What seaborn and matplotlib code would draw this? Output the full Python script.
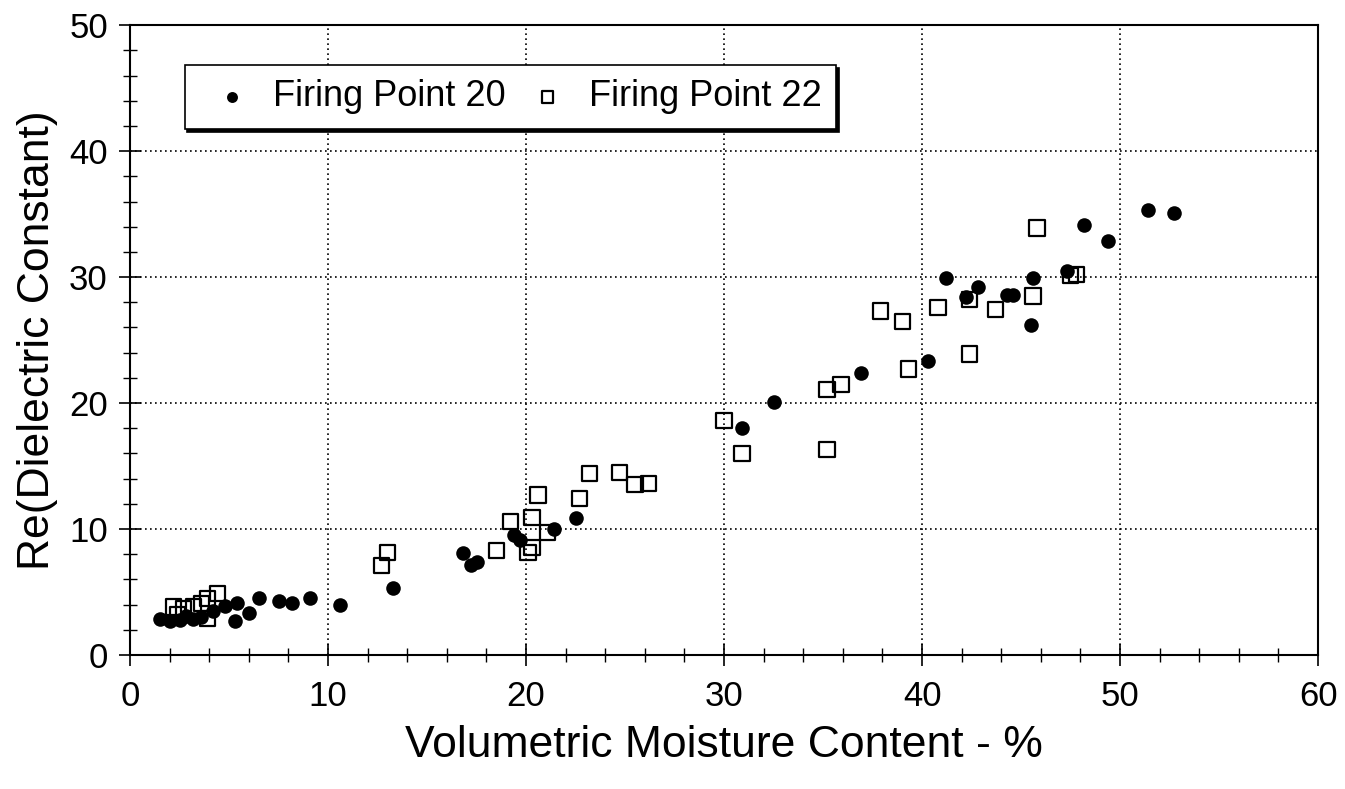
import numpy as np
import pandas as pd
import matplotlib
matplotlib.use('Agg')
import matplotlib.pyplot as plt
import seaborn as sns

# ── Data ───────────────────────────────────────
fp20_x = [1.5, 2.0, 2.5, 2.8, 3.2, 3.6, 4.2, 4.8, 5.4, 5.3, 6.0, 6.5, 7.5,
          8.2, 9.1, 10.6, 13.3, 16.8, 17.2, 17.5, 19.4, 19.7, 21.4, 22.5,
          30.9, 32.5, 36.9, 40.3, 41.2, 42.2, 42.8, 44.3, 44.6, 45.5, 45.6,
          47.3, 48.2, 49.4, 51.4, 52.7]
fp20_y = [2.85, 2.7, 2.8, 3.1, 2.85, 3.0, 3.5, 3.9, 4.1, 2.7, 3.35, 4.5, 4.3,
          4.1, 4.5, 4.0, 5.3, 8.1, 7.1, 7.4, 9.5, 9.1, 10.0, 10.9,
          18.0, 20.05, 22.4, 23.3, 29.9, 28.4, 29.2, 28.6, 28.6, 26.2, 29.9,
          30.5, 34.1, 32.9, 35.3, 35.1]

fp22_x = [2.2, 2.4, 2.7, 3.2, 3.6, 3.9, 3.9, 4.4, 12.7, 13.0, 18.5, 19.2,
          20.1, 20.3, 20.3, 20.6, 21.1, 22.7, 23.2, 24.7, 25.5, 26.2,
          30.0, 30.9, 35.2, 35.2, 35.9, 37.9, 39.0, 39.3, 40.8, 42.4, 42.4,
          43.7, 45.6, 45.8, 47.5, 47.8]
fp22_y = [3.8, 3.2, 3.7, 3.8, 4.1, 4.5, 2.9, 4.9, 7.1, 8.1, 8.3, 10.6,
          8.1, 8.5, 10.9, 12.7, 9.7, 12.4, 14.4, 14.5, 13.5, 13.6,
          18.6, 16.0, 16.3, 21.1, 21.5, 27.3, 26.5, 22.7, 27.6, 28.2, 23.9,
          27.4, 28.5, 33.9, 30.1, 30.2]

x_ticks = [0, 10, 20, 30, 40, 50, 60]
y_ticks = [0, 10, 20, 30, 40, 50]

df20 = pd.DataFrame({'moisture': fp20_x, 'dielectric': fp20_y})
df22 = pd.DataFrame({'moisture': fp22_x, 'dielectric': fp22_y})

# ── Style ──────────────────────────────────────
sns.set_style('white')
plt.rcParams['font.family'] = ['Liberation Sans', 'DejaVu Sans']
plt.rcParams['text.color'] = 'black'
plt.rcParams['axes.labelcolor'] = 'black'
plt.rcParams['xtick.color'] = 'black'
plt.rcParams['ytick.color'] = 'black'

fig = plt.figure(figsize=(13.45, 7.89), dpi=100)
ax = fig.add_axes([0.0967, 0.170, 0.8833, 0.798])

sns.scatterplot(data=df20, x='moisture', y='dielectric', ax=ax,
                marker='o', s=110, color='black', edgecolor='black',
                linewidth=0, label='Firing Point 20', zorder=3)
sns.scatterplot(data=df22, x='moisture', y='dielectric', ax=ax,
                marker='s', s=120, fc='none', ec='black',
                linewidth=1.6, label='Firing Point 22', zorder=3)

ax.set_xlim(0, 60)
ax.set_ylim(0, 50)
ax.set_xticks(x_ticks)
ax.set_yticks(y_ticks)
ax.set_xticks(np.arange(0, 61, 2), minor=True)
ax.set_yticks(np.arange(0, 51, 2), minor=True)
ax.tick_params(which='major', direction='inout', length=16, width=1.2,
               labelsize=25, bottom=True, left=True)
ax.tick_params(axis='x', which='major', pad=10)
ax.tick_params(axis='y', which='major', pad=8)
ax.tick_params(which='minor', direction='inout', length=10, width=1.0,
               bottom=True, left=True)

ax.grid(True, which='major', color='black', linestyle=(0, (1, 2)),
        linewidth=1.2)
for side in ax.spines.values():
    side.set_color('black')
    side.set_linewidth(1.5)

ax.set_xlabel('Volumetric Moisture Content - %', fontsize=32, labelpad=9)
ax.set_ylabel('Re(Dielectric Constant)', fontsize=32, labelpad=8)

leg = ax.legend(loc='upper left', bbox_to_anchor=(0.046, 0.937), ncol=2,
                fontsize=26, frameon=True, fancybox=False, markerscale=0.75,
                shadow={'color': 'black', 'alpha': 1.0},
                handletextpad=0.25, columnspacing=0.25, borderpad=0.4,
                handlelength=1.8, borderaxespad=0)
leg.get_frame().set_edgecolor('black')
leg.get_frame().set_linewidth(1.2)

fig.savefig('out.png', dpi=100)
plt.close(fig)
